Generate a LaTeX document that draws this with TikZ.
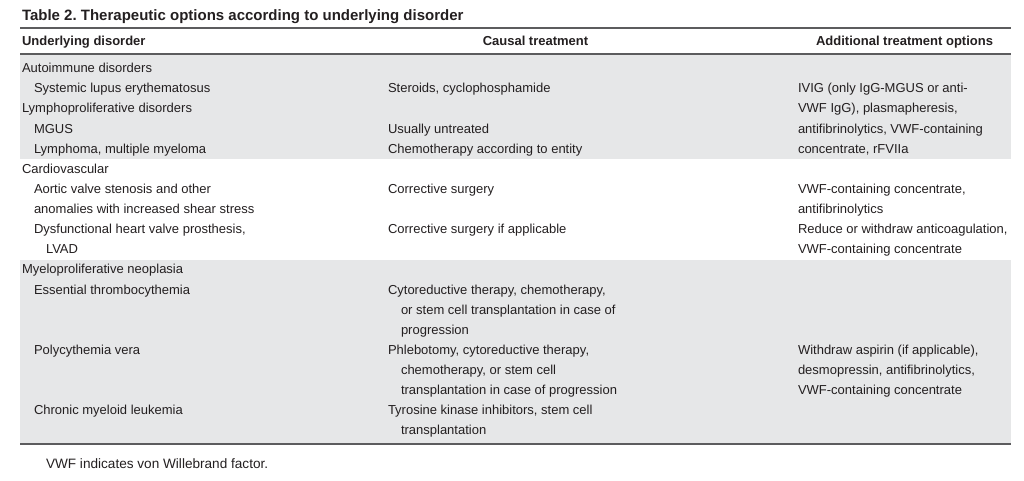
\documentclass[tikz,border=0pt]{standalone}
\usepackage{fontspec}
\setmainfont{Liberation Sans}
\frenchspacing
\definecolor{bandgray}{HTML}{E6E7E8}
\definecolor{rulegray}{HTML}{5C5C5E}
\definecolor{txt}{HTML}{231F20}
\begin{document}
\begin{tikzpicture}[x=1pt,y=-1pt,
  cell/.style={anchor=base west,inner sep=0pt,outer sep=0pt,text=txt,font=\fontsize{13}{15}\selectfont},
  headcell/.style={inner sep=0pt,outer sep=0pt,text=txt,font=\fontsize{13}{15}\selectfont\bfseries},
  titlecell/.style={anchor=base west,inner sep=0pt,outer sep=0pt,text=txt,font=\fontsize{15}{17}\selectfont\bfseries},
  footcell/.style={anchor=base west,inner sep=0pt,outer sep=0pt,text=txt,font=\fontsize{13.6}{15}\selectfont},
  tablerule/.style={draw=rulegray,line width=1.5pt},
  band/.style={fill=bandgray,draw=none}]
\useasboundingbox (0,0) rectangle (1024,481);
% bands
\path[band] (20,55) rectangle (1011,159);
\path[band] (20,260) rectangle (1011,443);
% rules
\coordinate (r1a) at (20,28); \coordinate (r1b) at (1011,28);
\coordinate (r2a) at (20,54); \coordinate (r2b) at (1011,54);
\coordinate (r3a) at (20,444); \coordinate (r3b) at (1011,444);
\draw[tablerule] (r1a) -- (r1b);
\draw[tablerule] (r2a) -- (r2b);
\draw[tablerule] (r3a) -- (r3b);
% title and header
\node[titlecell] (title) at (22,20.5) {Table 2. Therapeutic options according to underlying disorder};
\node[headcell,anchor=base west] (h1) at (22,46) {Underlying disorder};
\node[headcell,anchor=base] (h2) at (535.5,46) {Causal treatment};
\node[headcell,anchor=base east] (h3) at (993,46) {Additional treatment options};
% column 1
\node[cell] (c1a) at (22,72.7) {Autoimmune disorders};
\node[cell] (c1b) at (34,92.8) {Systemic lupus erythematosus};
\node[cell] (c1c) at (22,112.9) {Lymphoproliferative disorders};
\node[cell] (c1d) at (34,133.1) {MGUS};
\node[cell] (c1e) at (34,153.2) {Lymphoma, multiple myeloma};
\node[cell] (c1f) at (22,173.3) {Cardiovascular};
\node[cell] (c1g) at (34,193.4) {Aortic valve stenosis and other};
\node[cell] (c1h) at (34,213.5) {anomalies with increased shear stress};
\node[cell] (c1i) at (34,233.7) {Dysfunctional heart valve prosthesis,};
\node[cell] (c1j) at (46,253.8) {LVAD};
\node[cell] (c1k) at (22,273.9) {Myeloproliferative neoplasia};
\node[cell] (c1l) at (34,294.0) {Essential thrombocythemia};
\node[cell] (c1m) at (34,354.4) {Polycythemia vera};
\node[cell] (c1n) at (34,414.7) {Chronic myeloid leukemia};
% column 2
\node[cell] (c2a) at (388,92.8) {Steroids, cyclophosphamide};
\node[cell] (c2b) at (388,133.1) {Usually untreated};
\node[cell] (c2c) at (388,153.2) {Chemotherapy according to entity};
\node[cell] (c2d) at (388,193.4) {Corrective surgery};
\node[cell] (c2e) at (388,233.7) {Corrective surgery if applicable};
\node[cell] (c2f) at (388,294.0) {Cytoreductive therapy, chemotherapy,};
\node[cell] (c2g) at (401,314.1) {or stem cell transplantation in case of};
\node[cell] (c2h) at (401,334.3) {progression};
\node[cell] (c2i) at (388,354.4) {Phlebotomy, cytoreductive therapy,};
\node[cell] (c2j) at (401,374.5) {chemotherapy, or stem cell};
\node[cell] (c2k) at (401,394.6) {transplantation in case of progression};
\node[cell] (c2l) at (388,414.7) {Tyrosine kinase inhibitors, stem cell};
\node[cell] (c2m) at (401,434.9) {transplantation};
% column 3
\node[cell] (c3a) at (798,92.8) {IVIG (only IgG-MGUS or anti-};
\node[cell] (c3b) at (798,112.9) {VWF IgG), plasmapheresis,};
\node[cell] (c3c) at (798,133.1) {antifibrinolytics, VWF-containing};
\node[cell] (c3d) at (798,153.2) {concentrate, rFVIIa};
\node[cell] (c3e) at (798,193.4) {VWF-containing concentrate,};
\node[cell] (c3f) at (798,213.5) {antifibrinolytics};
\node[cell] (c3g) at (798,233.7) {Reduce or withdraw anticoagulation,};
\node[cell] (c3h) at (798,253.8) {VWF-containing concentrate};
\node[cell] (c3i) at (798,354.4) {Withdraw aspirin (if applicable),};
\node[cell] (c3j) at (798,374.5) {desmopressin, antifibrinolytics,};
\node[cell] (c3k) at (798,394.6) {VWF-containing concentrate};
% footnote
\node[footcell] (foot) at (46,468) {VWF indicates von Willebrand factor.};
\end{tikzpicture}
\end{document}
